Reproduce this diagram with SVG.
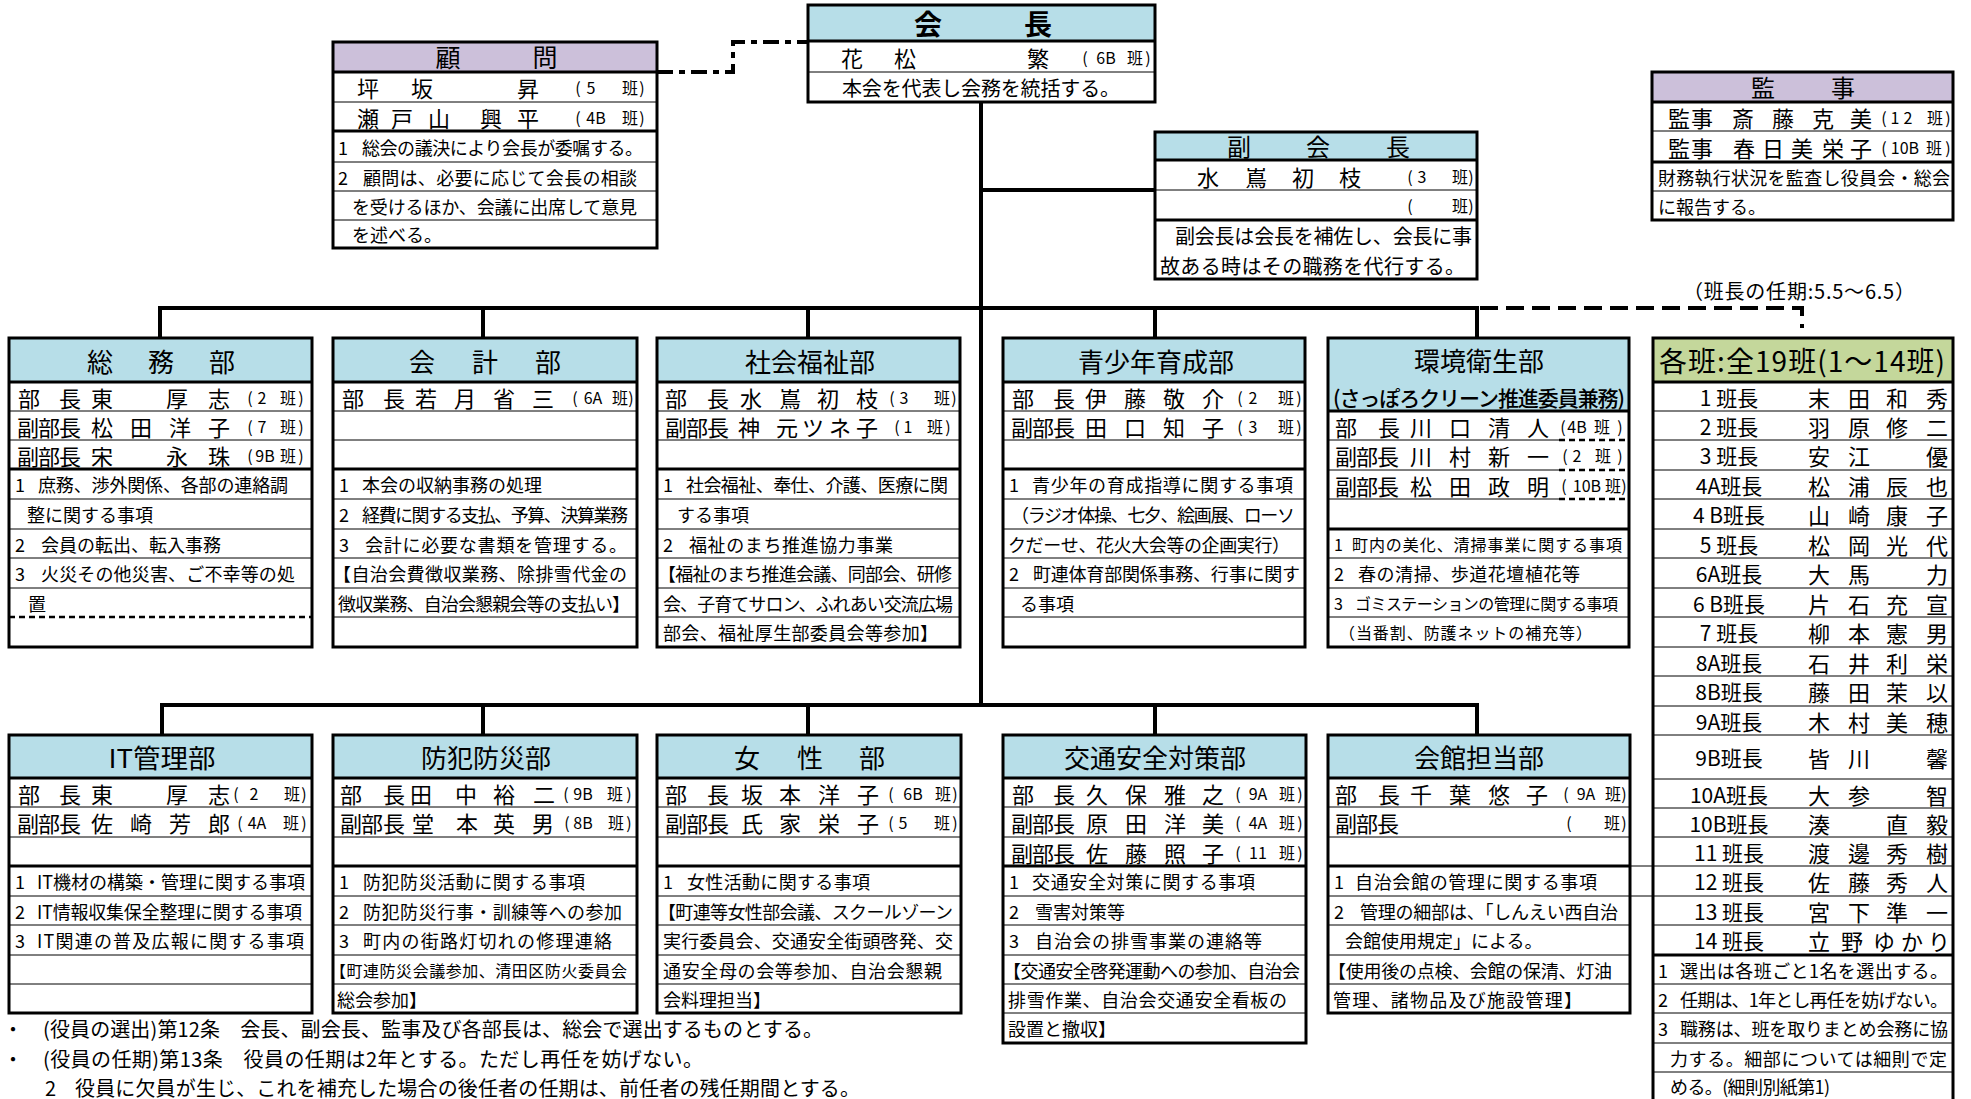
<svg xmlns="http://www.w3.org/2000/svg" width="1971" height="1099" viewBox="0 0 1971 1099">
<style>
text{font-family:"Noto Sans CJK JP","Noto Sans CJK SC",sans-serif;fill:#000;dominant-baseline:central}
.bg{fill:#fff}
.bd{fill:none;stroke:#000;stroke-width:3}
.hb{fill:#B7DEE8}.hp{fill:#CCC0DA}.hg{fill:#C4D79B}
.tn{fill:none;stroke:#000;stroke-width:1}
.tk{fill:none;stroke:#000;stroke-width:3}
.ds{fill:none;stroke:#000;stroke-width:2.5;stroke-dasharray:6 4}
.h{font-size:26px;text-anchor:middle}
.n{font-size:22px;text-anchor:middle}
.s{font-size:16px;text-anchor:middle}
.c{font-size:18px}
.cs{font-size:16px}
.lb{font-size:21px;text-anchor:middle}
.nm{font-size:22px;text-anchor:middle}
.nt{font-size:20px}
.conn path{fill:none;stroke:#000;stroke-width:4}
</style>
<rect width="1971" height="1099" fill="#fff"/>

<g id="connectors" class="conn">
<path d="M981 102V705"/>
<path d="M981 190H1155"/>
<path d="M160 338V308H1477V338M483 308V338M808 308V338M1155 308V338"/>
<path d="M162 735V705H1477V735M483 705V735M808 705V735M1155 705V735"/>
<path d="M657 72H733V42H808" style="stroke-dasharray:16 6 6 6"/>
<path d="M1480 308H1802V328" style="stroke-dasharray:18 8"/>
</g>

<g id="komon">
<rect class="bg" x="333" y="42" width="324" height="206"/>
<rect class="hp" x="333" y="42" width="324" height="30"/>
<path class="tk" d="M333 72H657M333 131H657"/>
<path class="tn" d="M333 102H657M333 162H657M333 191H657M333 220H657"/>
<rect class="bd" x="333" y="42" width="324" height="206"/>
<text class="h" x="448 545" y="56" style="font-size:25px">顧問</text>
<text class="n" x="368 422 528" y="87">坪坂昇</text>
<text class="s" y="87"><tspan x="578">(</tspan><tspan x="591">5</tspan><tspan x="630">班</tspan><tspan x="642">)</tspan></text>
<text class="n" x="368 402 439 491 528" y="116.5">瀬戸山興平</text>
<text class="s" y="116.5"><tspan x="578">(</tspan><tspan x="596">4B</tspan><tspan x="630">班</tspan><tspan x="642">)</tspan></text>
<text class="c" x="338" y="146.5">1</text><text class="c" x="362" y="146.5" textLength="281">総会の議決により会長が委嘱する。</text>
<text class="c" x="338" y="176.5">2</text><text class="c" x="363" y="176.5" textLength="274">顧問は、必要に応じて会長の相談</text>
<text class="c" x="352" y="205.5" textLength="285">を受けるほか、会議に出席して意見</text>
<text class="c" x="352" y="234">を述べる。</text>
</g>

<g id="kaicho">
<rect class="bg" x="808" y="5" width="347" height="97"/>
<rect class="hb" x="808" y="5" width="347" height="36"/>
<path class="tk" d="M808 41H1155"/>
<path class="tn" d="M808 72H1155"/>
<rect class="bd" x="808" y="5" width="347" height="97"/>
<text class="h" x="928 1038" y="23" style="font-size:28px;font-weight:bold">会長</text>
<text class="n" x="852 905 1038" y="56.5">花松繁</text>
<text class="s" y="56.5"><tspan x="1085">(</tspan><tspan x="1106">6B</tspan><tspan x="1135">班</tspan><tspan x="1148">)</tspan></text>
<text x="842" y="87" textLength="278" style="font-size:20px">本会を代表し会務を統括する。</text>
</g>

<g id="fukukaicho">
<rect class="bg" x="1155" y="132" width="322" height="147"/>
<rect class="hb" x="1155" y="132" width="322" height="28"/>
<path class="tk" d="M1155 160H1477M1155 220H1477"/>
<path class="tn" d="M1155 190H1477"/>
<rect class="bd" x="1155" y="132" width="322" height="147"/>
<text class="h" x="1239 1318 1398" y="145" style="font-size:24px">副会長</text>
<text class="n" x="1208 1256 1303 1350" y="175.5">水嶌初枝</text>
<text class="s" y="175.5"><tspan x="1410">(</tspan><tspan x="1422">3</tspan><tspan x="1460">班</tspan><tspan x="1471">)</tspan></text>
<text class="s" y="205"><tspan x="1410">(</tspan><tspan x="1460">班</tspan><tspan x="1471">)</tspan></text>
<text x="1175" y="235" textLength="297" style="font-size:20px">副会長は会長を補佐し、会長に事</text>
<text x="1160" y="265" textLength="305" style="font-size:20px">故ある時はその職務を代行する。</text>
</g>

<g id="kanji">
<rect class="bg" x="1652" y="72" width="301" height="148"/>
<rect class="hp" x="1652" y="72" width="301" height="30"/>
<path class="tk" d="M1652 102H1953M1652 162H1953"/>
<path class="tn" d="M1652 131H1953M1652 191H1953"/>
<rect class="bd" x="1652" y="72" width="301" height="148"/>
<text class="h" x="1763 1843" y="86" style="font-size:24px">監事</text>
<text class="n" x="1679 1702 1743 1783 1823 1861" y="116.5">監事斎藤克美</text>
<text class="s" y="116.5"><tspan x="1884">(</tspan><tspan x="1895">1</tspan><tspan x="1908">2</tspan><tspan x="1935">班</tspan><tspan x="1948">)</tspan></text>
<text class="n" x="1679 1702 1744 1773 1802 1833 1861" y="146.5">監事春日美栄子</text>
<text class="s" y="146.5"><tspan x="1884">(</tspan><tspan x="1905">10B</tspan><tspan x="1934">班</tspan><tspan x="1948">)</tspan></text>
<text class="c" x="1658" y="176.5" textLength="292">財務執行状況を監査し役員会・総会</text>
<text class="c" x="1658" y="205.5">に報告する。</text>
</g>

<text x="1683" y="290" textLength="232" style="font-size:20px">（班長の任期:5.5～6.5）</text>

<g id="somu">
<rect class="bg" x="9" y="338" width="303" height="309"/>
<rect class="hb" x="9" y="338" width="303" height="44"/>
<path class="tk" d="M9 382H312M9 469H312"/>
<path class="tn" d="M9 411H312M9 440H312M9 499H312M9 529H312M9 558H312M9 588H312"/>
<path class="ds" d="M9 617H312"/>
<rect class="bd" x="9" y="338" width="303" height="309"/>
<text class="h" x="100 161 222" y="360">総務部</text>
<text class="n" x="29 70 102 177 219" y="396.5">部長東厚志</text>
<text class="s" y="396.5"><tspan x="250">(</tspan><tspan x="262">2</tspan><tspan x="288">班</tspan><tspan x="301">)</tspan></text>
<text class="n" x="28 49 70 102 141 180 219" y="425.5">副部長松田洋子</text>
<text class="s" y="425.5"><tspan x="250">(</tspan><tspan x="262">7</tspan><tspan x="288">班</tspan><tspan x="301">)</tspan></text>
<text class="n" x="28 49 70 102 177 219" y="454.5">副部長宋永珠</text>
<text class="s" y="454.5"><tspan x="250">(</tspan><tspan x="265">9B</tspan><tspan x="288">班</tspan><tspan x="301">)</tspan></text>
<text class="c" x="15" y="484">1</text><text class="c" x="38" y="484" textLength="250">庶務、渉外関係、各部の連絡調</text>
<text class="c" x="27" y="514">整に関する事項</text>
<text class="c" x="15" y="543.5">2</text><text class="c" x="41" y="543.5">会員の転出、転入事務</text>
<text class="c" x="15" y="573">3</text><text class="c" x="41" y="573" textLength="254">火災その他災害、ご不幸等の処</text>
<text class="c" x="28" y="602.5">置</text>
</g>

<g id="kaikei">
<rect class="bg" x="333" y="338" width="304" height="309"/>
<rect class="hb" x="333" y="338" width="304" height="44"/>
<path class="tk" d="M333 382H637M333 469H637"/>
<path class="tn" d="M333 411H637M333 440H637M333 499H637M333 529H637M333 558H637M333 588H637M333 617H637"/>
<rect class="bd" x="333" y="338" width="304" height="309"/>
<text class="h" x="422 485 548" y="360">会計部</text>
<text class="n" x="353 394 426 465 504 543" y="396.5">部長若月省三</text>
<text class="s" y="396.5"><tspan x="575">(</tspan><tspan x="593">6A</tspan><tspan x="620">班</tspan><tspan x="631">)</tspan></text>
<text class="c" x="339" y="484">1</text><text class="c" x="362" y="484">本会の収納事務の処理</text>
<text class="c" x="339" y="514">2</text><text class="c" x="362" y="514" textLength="266">経費に関する支払、予算、決算業務</text>
<text class="c" x="339" y="543.5">3</text><text class="c" x="365" y="543.5" textLength="262">会計に必要な書類を管理する。</text>
<text class="c" x="333" y="573" textLength="294">【自治会費徴収業務、除排雪代金の</text>
<text class="c" x="338" y="602.5" textLength="292">徴収業務、自治会懇親会等の支払い】</text>
</g>

<g id="fukushi">
<rect class="bg" x="657" y="338" width="303" height="309"/>
<rect class="hb" x="657" y="338" width="303" height="44"/>
<path class="tk" d="M657 382H960M657 469H960"/>
<path class="tn" d="M657 411H960M657 440H960M657 499H960M657 529H960M657 558H960M657 588H960M657 617H960"/>
<rect class="bd" x="657" y="338" width="303" height="309"/>
<text class="h" x="810" y="360">社会福祉部</text>
<text class="n" x="676 718 751 790 828 867" y="396.5">部長水嶌初枝</text>
<text class="s" y="396.5"><tspan x="892">(</tspan><tspan x="904">3</tspan><tspan x="942">班</tspan><tspan x="954">)</tspan></text>
<text class="n" x="676 697 718 749 787 813 840 867" y="425.5">副部長神元ツネ子</text>
<text class="s" y="425.5"><tspan x="897">(</tspan><tspan x="908">1</tspan><tspan x="935">班</tspan><tspan x="948">)</tspan></text>
<text class="c" x="663" y="484">1</text><text class="c" x="686" y="484" textLength="262">社会福祉、奉仕、介護、医療に関</text>
<text class="c" x="677" y="514">する事項</text>
<text class="c" x="663" y="543.5">2</text><text class="c" x="689" y="543.5" textLength="204">福祉のまち推進協力事業</text>
<text class="c" x="658" y="573" textLength="294">【福祉のまち推進会議、同部会、研修</text>
<text class="c" x="663" y="602.5" textLength="290">会、子育てサロン、ふれあい交流広場</text>
<text class="c" x="663" y="632" textLength="275">部会、福祉厚生部委員会等参加】</text>
</g>

<g id="seishonen">
<rect class="bg" x="1003" y="338" width="302" height="309"/>
<rect class="hb" x="1003" y="338" width="302" height="44"/>
<path class="tk" d="M1003 382H1305M1003 469H1305"/>
<path class="tn" d="M1003 411H1305M1003 440H1305M1003 499H1305M1003 529H1305M1003 558H1305M1003 588H1305M1003 617H1305"/>
<rect class="bd" x="1003" y="338" width="302" height="309"/>
<text class="h" x="1156" y="360">青少年育成部</text>
<text class="n" x="1023 1064 1096 1135 1174 1213" y="396.5">部長伊藤敬介</text>
<text class="s" y="396.5"><tspan x="1240">(</tspan><tspan x="1253">2</tspan><tspan x="1286">班</tspan><tspan x="1299">)</tspan></text>
<text class="n" x="1022 1043 1064 1096 1135 1174 1213" y="425.5">副部長田口知子</text>
<text class="s" y="425.5"><tspan x="1240">(</tspan><tspan x="1253">3</tspan><tspan x="1286">班</tspan><tspan x="1299">)</tspan></text>
<text class="c" x="1009" y="484">1</text><text class="c" x="1032" y="484" textLength="261">青少年の育成指導に関する事項</text>
<text class="c" x="1011" y="514" textLength="284">（ラジオ体操、七夕、絵画展、ローソ</text>
<text class="c" x="1008" y="543.5" textLength="282">クだーせ、花火大会等の企画実行）</text>
<text class="c" x="1009" y="573">2</text><text class="c" x="1033" y="573" textLength="267">町連体育部関係事務、行事に関す</text>
<text class="c" x="1020" y="602.5">る事項</text>
</g>

<g id="kankyo">
<rect class="bg" x="1328" y="338" width="301" height="309"/>
<rect class="hb" x="1328" y="338" width="301" height="73"/>
<path class="tk" d="M1328 411H1629M1328 529H1629"/>
<path class="tn" d="M1328 440H1559M1328 470H1559M1328 499H1559M1328 558H1629M1328 588H1629M1328 617H1629"/>
<path class="ds" d="M1559 440H1629M1559 470H1629M1559 499H1629"/>
<rect class="bd" x="1328" y="338" width="301" height="309"/>
<text class="h" x="1479" y="359">環境衛生部</text>
<text x="1333" y="397" textLength="292" style="font-size:21px;font-weight:500">(さっぽろクリーン推進委員兼務)</text>
<text class="n" x="1346 1389 1421 1460 1499 1538" y="425.5">部長川口清人</text>
<text class="s" y="425.5"><tspan x="1563">(</tspan><tspan x="1577">4B</tspan><tspan x="1602">班</tspan><tspan x="1620">)</tspan></text>
<text class="n" x="1346 1367 1388 1421 1460 1499 1538" y="455">副部長川村新一</text>
<text class="s" y="455"><tspan x="1565">(</tspan><tspan x="1577">2</tspan><tspan x="1603">班</tspan><tspan x="1620">)</tspan></text>
<text class="n" x="1346 1367 1388 1421 1460 1499 1538" y="484.5">副部長松田政明</text>
<text class="s" y="484.5"><tspan x="1564">(</tspan><tspan x="1587">10B</tspan><tspan x="1613">班</tspan><tspan x="1624">)</tspan></text>
<text class="cs" x="1334" y="543.5">1</text><text class="cs" x="1352" y="543.5" textLength="270">町内の美化、清掃事業に関する事項</text>
<text class="c" x="1334" y="573">2</text><text class="c" x="1358" y="573" textLength="222">春の清掃、歩道花壇植花等</text>
<text class="cs" x="1334" y="602.5">3</text><text class="cs" x="1355" y="602.5" textLength="263">ゴミステーションの管理に関する事項</text>
<text class="cs" x="1339" y="632" textLength="253">（当番割、防護ネットの補充等）</text>
</g>

<g id="kakuhan">
<rect class="bg" x="1653" y="338" width="300" height="766"/>
<rect class="hg" x="1653" y="338" width="300" height="44"/>
<path class="tk" d="M1653 382H1953M1653 955H1953"/>
<path class="tn" d="M1653 411H1953M1653 440H1953M1653 470H1953M1653 499H1953M1653 529H1953M1653 558H1953M1653 588H1953M1653 617H1953M1653 647H1953M1653 676H1953M1653 706H1953M1653 735H1953M1653 779H1953M1653 808H1953M1653 837H1953M1653 866H1953M1653 896H1953M1653 925H1953M1653 984H1953M1653 1013H1953M1653 1043H1953M1653 1072H1953"/>
<rect class="bd" x="1653" y="338" width="300" height="766"/>
<text x="1659" y="360" textLength="286" style="font-size:28px">各班:全19班(1～14班)</text>
<text class="lb" x="1729" y="396.5">1 班長</text><text class="nm" x="1819 1859 1897 1937" y="396.5">末田和秀</text>
<text class="lb" x="1729" y="425.5">2 班長</text><text class="nm" x="1819 1859 1897 1937" y="425.5">羽原修二</text>
<text class="lb" x="1729" y="455">3 班長</text><text class="nm" x="1819 1859 1937" y="455">安江優</text>
<text class="lb" x="1729" y="484.5">4A班長</text><text class="nm" x="1819 1859 1897 1937" y="484.5">松浦辰也</text>
<text class="lb" x="1729" y="514">4 B班長</text><text class="nm" x="1819 1859 1897 1937" y="514">山崎康子</text>
<text class="lb" x="1729" y="543.5">5 班長</text><text class="nm" x="1819 1859 1897 1937" y="543.5">松岡光代</text>
<text class="lb" x="1729" y="573">6A班長</text><text class="nm" x="1819 1859 1937" y="573">大馬力</text>
<text class="lb" x="1729" y="602.5">6 B班長</text><text class="nm" x="1819 1859 1897 1937" y="602.5">片石充宣</text>
<text class="lb" x="1729" y="632">7 班長</text><text class="nm" x="1819 1859 1897 1937" y="632">柳本憲男</text>
<text class="lb" x="1729" y="661.5">8A班長</text><text class="nm" x="1819 1859 1897 1937" y="661.5">石井利栄</text>
<text class="lb" x="1729" y="691">8B班長</text><text class="nm" x="1819 1859 1897 1937" y="691">藤田茉以</text>
<text class="lb" x="1729" y="720.5">9A班長</text><text class="nm" x="1819 1859 1897 1937" y="720.5">木村美穂</text>
<text class="lb" x="1729" y="757">9B班長</text><text class="nm" x="1819 1859 1937" y="757">皆川馨</text>
<text class="lb" x="1729" y="793.5">10A班長</text><text class="nm" x="1819 1859 1937" y="793.5">大参智</text>
<text class="lb" x="1729" y="822.5">10B班長</text><text class="nm" x="1819 1897 1937" y="822.5">湊直毅</text>
<text class="lb" x="1729" y="851.5">11 班長</text><text class="nm" x="1819 1859 1897 1937" y="851.5">渡邊秀樹</text>
<text class="lb" x="1729" y="881">12 班長</text><text class="nm" x="1819 1859 1897 1937" y="881">佐藤秀人</text>
<text class="lb" x="1729" y="910.5">13 班長</text><text class="nm" x="1819 1859 1897 1937" y="910.5">宮下準一</text>
<text class="lb" x="1729" y="940">14 班長</text><text class="nm" x="1819 1852 1884 1912 1939" y="940">立野ゆかり</text>
<text class="c" x="1658" y="969.5">1</text><text class="c" x="1680" y="969.5" textLength="268">選出は各班ごと1名を選出する。</text>
<text class="c" x="1658" y="998.5">2</text><text class="c" x="1680" y="998.5" textLength="268">任期は、1年とし再任を妨げない。</text>
<text class="c" x="1658" y="1028">3</text><text class="c" x="1680" y="1028" textLength="268">職務は、班を取りまとめ会務に協</text>
<text class="c" x="1670" y="1057.5" textLength="277">力する。細部については細則で定</text>
<text class="c" x="1670" y="1086" textLength="160">める。(細則別紙第1)</text>
</g>

<g id="it">
<rect class="bg" x="9" y="735" width="303" height="278"/>
<rect class="hb" x="9" y="735" width="303" height="43"/>
<path class="tk" d="M9 778H312M9 866H312"/>
<path class="tn" d="M9 807H312M9 837H312M9 896H312M9 925H312M9 955H312M9 984H312"/>
<rect class="bd" x="9" y="735" width="303" height="278"/>
<text class="h" x="162" y="756.5" textLength="107" lengthAdjust="spacingAndGlyphs">IT管理部</text>
<text class="n" x="29 70 102 177 219" y="792.5">部長東厚志</text>
<text class="s" y="792.5"><tspan x="236">(</tspan><tspan x="254">2</tspan><tspan x="292">班</tspan><tspan x="304">)</tspan></text>
<text class="n" x="28 49 70 102 141 180 219" y="822">副部長佐崎芳郎</text>
<text class="s" y="822"><tspan x="240">(</tspan><tspan x="257">4A</tspan><tspan x="291">班</tspan><tspan x="304">)</tspan></text>
<text class="c" x="15" y="881">1</text><text class="c" x="37" y="881" textLength="268">IT機材の構築・管理に関する事項</text>
<text class="c" x="15" y="910.5">2</text><text class="c" x="37" y="910.5" textLength="265">IT情報収集保全整理に関する事項</text>
<text class="c" x="15" y="940">3</text><text class="c" x="37" y="940" textLength="267">IT関連の普及広報に関する事項</text>
</g>

<g id="bohan">
<rect class="bg" x="333" y="735" width="304" height="278"/>
<rect class="hb" x="333" y="735" width="304" height="43"/>
<path class="tk" d="M333 778H637M333 866H637"/>
<path class="tn" d="M333 807H637M333 837H637M333 896H637M333 925H637M333 955H637M333 984H637"/>
<rect class="bd" x="333" y="735" width="304" height="278"/>
<text class="h" x="486" y="756.5">防犯防災部</text>
<text class="n" x="351 394 421 466 504 544" y="792.5">部長田中裕二</text>
<text class="s" y="792.5"><tspan x="566">(</tspan><tspan x="583">9B</tspan><tspan x="615">班</tspan><tspan x="629">)</tspan></text>
<text class="n" x="351 372 394 423 467 504 543" y="822">副部長堂本英男</text>
<text class="s" y="822"><tspan x="567">(</tspan><tspan x="583">8B</tspan><tspan x="616">班</tspan><tspan x="629">)</tspan></text>
<text class="c" x="339" y="881">1</text><text class="c" x="363" y="881" textLength="222">防犯防災活動に関する事項</text>
<text class="c" x="339" y="910.5">2</text><text class="c" x="363" y="910.5" textLength="259">防犯防災行事・訓練等への参加</text>
<text class="c" x="339" y="940">3</text><text class="c" x="363" y="940" textLength="249">町内の街路灯切れの修理連絡</text>
<text class="cs" x="330" y="969.5" textLength="297">【町連防災会議参加、清田区防火委員会</text>
<text class="c" x="337" y="998.5">総会参加】</text>
</g>

<g id="josei">
<rect class="bg" x="657" y="735" width="304" height="278"/>
<rect class="hb" x="657" y="735" width="304" height="43"/>
<path class="tk" d="M657 778H961M657 866H961"/>
<path class="tn" d="M657 807H961M657 837H961M657 896H961M657 925H961M657 955H961M657 984H961"/>
<rect class="bd" x="657" y="735" width="304" height="278"/>
<text class="h" x="747 810 872" y="756.5">女性部</text>
<text class="n" x="676 718 752 790 829 868" y="792.5">部長坂本洋子</text>
<text class="s" y="792.5"><tspan x="891">(</tspan><tspan x="913">6B</tspan><tspan x="943">班</tspan><tspan x="955">)</tspan></text>
<text class="n" x="676 697 718 752 790 829 868" y="822">副部長氏家栄子</text>
<text class="s" y="822"><tspan x="891">(</tspan><tspan x="903">5</tspan><tspan x="942">班</tspan><tspan x="955">)</tspan></text>
<text class="c" x="663" y="881">1</text><text class="c" x="687" y="881" textLength="183">女性活動に関する事項</text>
<text class="c" x="658" y="910.5" textLength="295">【町連等女性部会議、スクールゾーン</text>
<text class="c" x="663" y="940" textLength="290">実行委員会、交通安全街頭啓発、交</text>
<text class="c" x="663" y="969.5" textLength="279">通安全母の会等参加、自治会懇親</text>
<text class="c" x="663" y="998.5">会料理担当】</text>
</g>

<g id="kotsu">
<rect class="bg" x="1003" y="735" width="303" height="308"/>
<rect class="hb" x="1003" y="735" width="303" height="43"/>
<path class="tk" d="M1003 778H1306M1003 866H1306"/>
<path class="tn" d="M1003 807H1306M1003 837H1306M1003 896H1306M1003 925H1306M1003 955H1306M1003 984H1306M1003 1013H1306"/>
<rect class="bd" x="1003" y="735" width="303" height="308"/>
<text class="h" x="1155" y="756.5">交通安全対策部</text>
<text class="n" x="1023 1064 1097 1136 1175 1213" y="792.5">部長久保雅之</text>
<text class="s" y="792.5"><tspan x="1238">(</tspan><tspan x="1258">9A</tspan><tspan x="1287">班</tspan><tspan x="1300">)</tspan></text>
<text class="n" x="1022 1043 1064 1097 1136 1175 1213" y="822">副部長原田洋美</text>
<text class="s" y="822"><tspan x="1238">(</tspan><tspan x="1258">4A</tspan><tspan x="1287">班</tspan><tspan x="1300">)</tspan></text>
<text class="n" x="1022 1043 1064 1097 1136 1175 1213" y="851.5">副部長佐藤照子</text>
<text class="s" y="851.5"><tspan x="1238">(</tspan><tspan x="1258">11</tspan><tspan x="1287">班</tspan><tspan x="1300">)</tspan></text>
<text class="c" x="1009" y="881">1</text><text class="c" x="1032" y="881" textLength="223">交通安全対策に関する事項</text>
<text class="c" x="1009" y="910.5">2</text><text class="c" x="1035" y="910.5">雪害対策等</text>
<text class="c" x="1009" y="940">3</text><text class="c" x="1035" y="940" textLength="227">自治会の排雪事業の連絡等</text>
<text class="c" x="1003" y="969.5" textLength="297">【交通安全啓発運動への参加、自治会</text>
<text class="c" x="1008" y="998.5" textLength="279">排雪作業、自治会交通安全看板の</text>
<text class="c" x="1008" y="1028">設置と撤収】</text>
</g>

<g id="kaikan">
<path class="tn" d="M1630 866H1653M1630 896H1653"/>
<rect class="bg" x="1328" y="735" width="302" height="278"/>
<rect class="hb" x="1328" y="735" width="302" height="43"/>
<path class="tk" d="M1328 778H1630M1328 866H1630"/>
<path class="tn" d="M1328 807H1630M1328 837H1630M1328 896H1630M1328 925H1630M1328 955H1630M1328 984H1630"/>
<rect class="bd" x="1328" y="735" width="302" height="278"/>
<text class="h" x="1479" y="756.5">会館担当部</text>
<text class="n" x="1346 1389 1421 1460 1499 1537" y="792.5">部長千葉悠子</text>
<text class="s" y="792.5"><tspan x="1566">(</tspan><tspan x="1586">9A</tspan><tspan x="1613">班</tspan><tspan x="1624">)</tspan></text>
<text class="n" x="1346 1367 1388" y="822">副部長</text>
<text class="s" y="822"><tspan x="1569">(</tspan><tspan x="1612">班</tspan><tspan x="1624">)</tspan></text>
<text class="c" x="1334" y="881">1</text><text class="c" x="1355" y="881" textLength="242">自治会館の管理に関する事項</text>
<text class="c" x="1334" y="910.5">2</text><text class="c" x="1360" y="910.5" textLength="258">管理の細部は、「しんえい西自治</text>
<text class="c" x="1345" y="940">会館使用規定」による。</text>
<text class="c" x="1328" y="969.5" textLength="284">【使用後の点検、会館の保清、灯油</text>
<text class="c" x="1333" y="998.5" textLength="249">管理、諸物品及び施設管理】</text>
</g>

<g id="notes">
<text class="nt" x="13" y="1028" text-anchor="middle">・</text>
<text class="nt" x="43" y="1028" textLength="780">(役員の選出)第12条　会長、副会長、監事及び各部長は、総会で選出するものとする。</text>
<text class="nt" x="13" y="1058" text-anchor="middle">・</text>
<text class="nt" x="43" y="1058" textLength="660">(役員の任期)第13条　役員の任期は2年とする。ただし再任を妨げない。</text>
<text class="nt" x="45" y="1087">2</text>
<text class="nt" x="75" y="1087" textLength="785">役員に欠員が生じ、これを補充した場合の後任者の任期は、前任者の残任期間とする。</text>
</g>
</svg>
